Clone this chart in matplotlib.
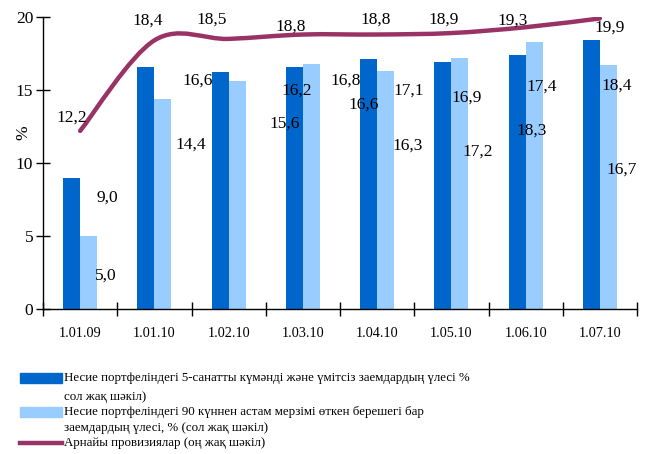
import matplotlib
matplotlib.use("Agg")
import matplotlib.pyplot as plt
from matplotlib.path import Path
from matplotlib.patches import PathPatch, Rectangle
from matplotlib.lines import Line2D

plt.rcParams['font.family'] = ['Liberation Serif', 'DejaVu Serif']

# data
dates = ['1.01.09', '1.01.10', '1.02.10', '1.03.10', '1.04.10', '1.05.10', '1.06.10', '1.07.10']
doubtful = [9.0, 16.6, 16.2, 16.6, 17.1, 16.9, 17.4, 18.4]
overdue90 = [5.0, 14.4, 15.6, 16.8, 16.3, 17.2, 18.3, 16.7]
provisions = [12.2, 18.4, 18.5, 18.8, 18.8, 18.9, 19.3, 19.9]

legend_lines = [
    ['Несие портфеліндегі 5-санатты күмәнді және үмітсіз заемдардың үлесі %',
     'сол жақ шәкіл)'],
    ['Несие портфеліндегі 90 күннен астам мерзімі өткен берешегі бар',
     'заемдардың үлесі, % (сол жақ шәкіл)'],
    ['Арнайы провизиялар (оң жақ шәкіл)'],
]

# label offsets in pixels (dx right, dy down), copied from the picture's odd placement
dark_off = [(36, 20), (52, 14), (77, 18), (69, 38), (40, 31), (24, 35), (25, 32), (25, 45)]
light_off = [(17, 40), (28, 46), (47, 42), (34, 17), (22, 75), (18, 94), (-3, 89), (13, 104)]
line_off = [(-8, -13), (-7, -20), (-17, -19), (-12, -8), (-1, -15), (-8, -13), (-13, -7), (10, 9)]

DARK = '#0066CC'
LIGHT = '#99CCFF'
PLUM = '#993366'
FS = 12.5

W, H = 649, 454
fig = plt.figure(figsize=(W / 100, H / 100), dpi=100)
ax = fig.add_axes([43 / W, 1 - 309 / H, 594 / W, 292 / H])

n = len(dates)
xc = [i + 0.5 for i in range(n)]
bw = 0.23
ax.bar([x - bw / 2 for x in xc], doubtful, width=bw, color=DARK, zorder=2)
ax.bar([x + bw / 2 for x in xc], overdue90, width=bw, color=LIGHT, zorder=2)

# smoothed line (catmull-rom as cubic beziers, like excel's smoothing)
pts = list(zip(xc, provisions))
verts = [pts[0]]
codes = [Path.MOVETO]
for i in range(n - 1):
    p0 = pts[max(i - 1, 0)]
    p1 = pts[i]
    p2 = pts[i + 1]
    p3 = pts[min(i + 2, n - 1)]
    c1 = (p1[0] + (p2[0] - p0[0]) / 6, p1[1] + (p2[1] - p0[1]) / 6)
    c2 = (p2[0] - (p3[0] - p1[0]) / 6, p2[1] - (p3[1] - p1[1]) / 6)
    verts += [c1, c2, p2]
    codes += [Path.CURVE4] * 3
ax.add_patch(PathPatch(Path(verts, codes), facecolor='none', edgecolor=PLUM,
                       lw=3.2, capstyle='round', zorder=3))


def fmt(v):
    return f'{v:.1f}'.replace('.', ',')


for i in range(n):
    dx, dy = dark_off[i]
    ax.annotate(fmt(doubtful[i]), xy=(xc[i] - bw / 2, doubtful[i]), xytext=(dx, -dy),
                textcoords='offset pixels', ha='center', va='center', fontsize=FS, zorder=4)
    dx, dy = light_off[i]
    ax.annotate(fmt(overdue90[i]), xy=(xc[i] + bw / 2, overdue90[i]), xytext=(dx, -dy),
                textcoords='offset pixels', ha='center', va='center', fontsize=FS, zorder=4)
    dx, dy = line_off[i]
    ax.annotate(fmt(provisions[i]), xy=(xc[i], provisions[i]), xytext=(dx, -dy),
                textcoords='offset pixels', ha='center', va='center', fontsize=FS, zorder=4)

ax.set_xlim(0, n)
ax.set_ylim(0, 20)
ax.set_yticks([0, 5, 10, 15, 20])
ax.set_xticks(range(n + 1))
ax.set_xticklabels([])
ax.set_xticks(xc, minor=True)
ax.set_xticklabels(dates, minor=True)
ax.tick_params(axis='x', which='minor', length=0, pad=13, labelsize=10.3)
ax.tick_params(axis='x', which='major', direction='inout', length=10, width=1)
ax.tick_params(axis='y', direction='inout', length=10, width=1, labelsize=FS, pad=2)
for s in ['top', 'right']:
    ax.spines[s].set_visible(False)
ax.spines['left'].set_linewidth(1)
ax.spines['bottom'].set_linewidth(1)
fig.text(23 / W, 1 - 133 / H, '%', rotation=90, ha='center', va='center', fontsize=FS)

# legend drawn by hand to keep the handles on the first text line
handle_y = [378, 412, 443]
line_gap = [19, 16]
for k, lines in enumerate(legend_lines):
    y = handle_y[k]
    if k < 2:
        fig.add_artist(Rectangle((20 / W, 1 - (y + 5) / H), 42 / W, 10 / H,
                                 transform=fig.transFigure, color=[DARK, LIGHT][k]))
    else:
        fig.add_artist(Line2D([20 / W, 62 / W], [1 - y / H, 1 - y / H],
                              transform=fig.transFigure, color=PLUM, lw=3.2))
    for j, txt in enumerate(lines):
        ty = y + (line_gap[k] * j if j else 0)
        fig.text(64 / W, 1 - ty / H, txt, ha='left', va='center', fontsize=9.3)

fig.savefig('out.png', dpi=100)
